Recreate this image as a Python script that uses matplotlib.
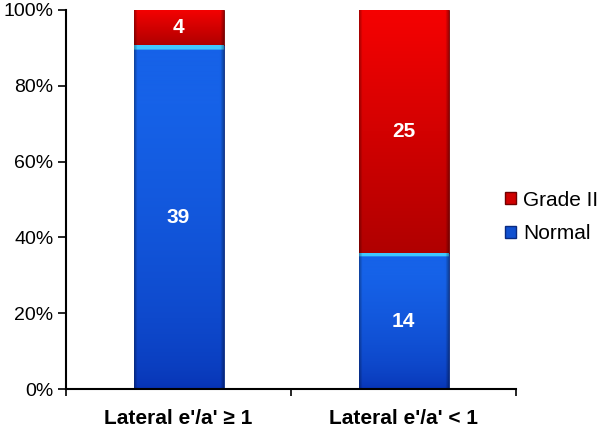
import numpy as np
import matplotlib
matplotlib.use("Agg")
import matplotlib.pyplot as plt
from matplotlib.patches import Patch

categories = ["Lateral e'/a' \u2265 1", "Lateral e'/a' < 1"]
normal = [39, 14]
grade2 = [4, 25]
series_names = ["Normal", "Grade II"]
yticklabels = ["0%", "20%", "40%", "60%", "80%", "100%"]

plt.rcParams['font.family'] = ['Liberation Sans', 'DejaVu Sans']

fig = plt.figure(figsize=(6.0, 4.29), dpi=100)
ax = fig.add_axes([0.11, 0.093, 0.75, 0.884])

totals = np.array(normal) + np.array(grade2)
pn = np.array(normal) / totals * 100
pg = np.array(grade2) / totals * 100
x = np.arange(len(categories))
w = 0.4

bn = ax.bar(x, pn, w, color="#1050D0", edgecolor="#0a2a80", linewidth=0.6, zorder=2)
bg = ax.bar(x, pg, w, bottom=pn, color="#D00000", edgecolor="#700000", linewidth=0.6, zorder=2)

def grad_fill(patch, kind):
    bb = patch.get_bbox()
    x0, x1, y0, y1 = bb.x0, bb.x1, bb.y0, bb.y1
    n = 600
    ys = np.linspace(y0, y1, n)
    t = (ys - y0) / max(y1 - y0, 1e-9)
    dist_top = y1 - ys  # in percent units
    img = np.zeros((n, 3))
    if kind == "blue":
        bot = np.array([0x06, 0x30, 0xB0]) / 255
        top = np.array([0x16, 0x62, 0xE8]) / 255
        hi = np.array([0x40, 0xC8, 0xFF]) / 255
        for i in range(n):
            c = bot + (top - bot) * min(1.0, t[i] ** 0.5 * 1.1)
            if dist_top[i] < 1.1:
                c = hi
            img[i] = c
    else:
        bot = np.array([0xB0, 0x00, 0x00]) / 255
        top = np.array([0xF6, 0x02, 0x02]) / 255
        for i in range(n):
            c = bot + (top - bot) * t[i] ** 1.0
            img[i] = c
    img = img[::-1][:, None, :]
    m = 90
    xs = np.linspace(0, 1, m)
    shade = 1 - 0.3 * np.clip(1 - np.minimum(xs, 1 - xs) / 0.035, 0, 1)
    full = img * shade[None, :, None]
    im = ax.imshow(full, extent=[x0, x1, y0, y1], aspect='auto', zorder=2.5,
                   interpolation='bilinear')
    im.set_clip_path(patch)

for p in bn:
    grad_fill(p, "blue")
for p in bg:
    grad_fill(p, "red")

for i in range(len(categories)):
    ax.text(x[i], pn[i] / 2, str(normal[i]), ha='center', va='center',
            color='white', fontsize=15, fontweight='bold', zorder=4)
    ax.text(x[i], pn[i] + pg[i] / 2, str(grade2[i]), ha='center', va='center',
            color='white', fontsize=15, fontweight='bold', zorder=4)

ax.set_xlim(-0.5, 1.5)
ax.set_ylim(0, 100)
ax.set_yticks([0, 20, 40, 60, 80, 100])
ax.set_yticklabels(yticklabels, fontsize=14)
ax.set_xticks([-0.5, 0.5, 1.5])
ax.set_xticklabels([])
ax.set_xticks(x, minor=True)
ax.set_xticklabels(categories, minor=True, fontsize=15, fontweight='bold')
ax.tick_params(axis='x', which='minor', length=0, pad=14)
ax.tick_params(axis='x', which='major', length=5, width=1.2, direction='out')
ax.tick_params(axis='y', length=6, width=1.2, direction='out', pad=3)
for s in ['top', 'right']:
    ax.spines[s].set_visible(False)
for s in ['left', 'bottom']:
    ax.spines[s].set_linewidth(1.5)
ax.spines['bottom'].set_zorder(5)

handles = [Patch(facecolor="#D00000", edgecolor="#700000", label=series_names[1]),
           Patch(facecolor="#1050D0", edgecolor="#0a2a80", label=series_names[0])]
fig.legend(handles=handles, loc='center left', bbox_to_anchor=(0.835, 0.494),
           frameon=False, fontsize=15, handlelength=0.5, handleheight=0.5,
           handletextpad=0.35, labelspacing=0.7, borderpad=0.2,
           borderaxespad=0.0)

fig.savefig("out.png", dpi=100)
